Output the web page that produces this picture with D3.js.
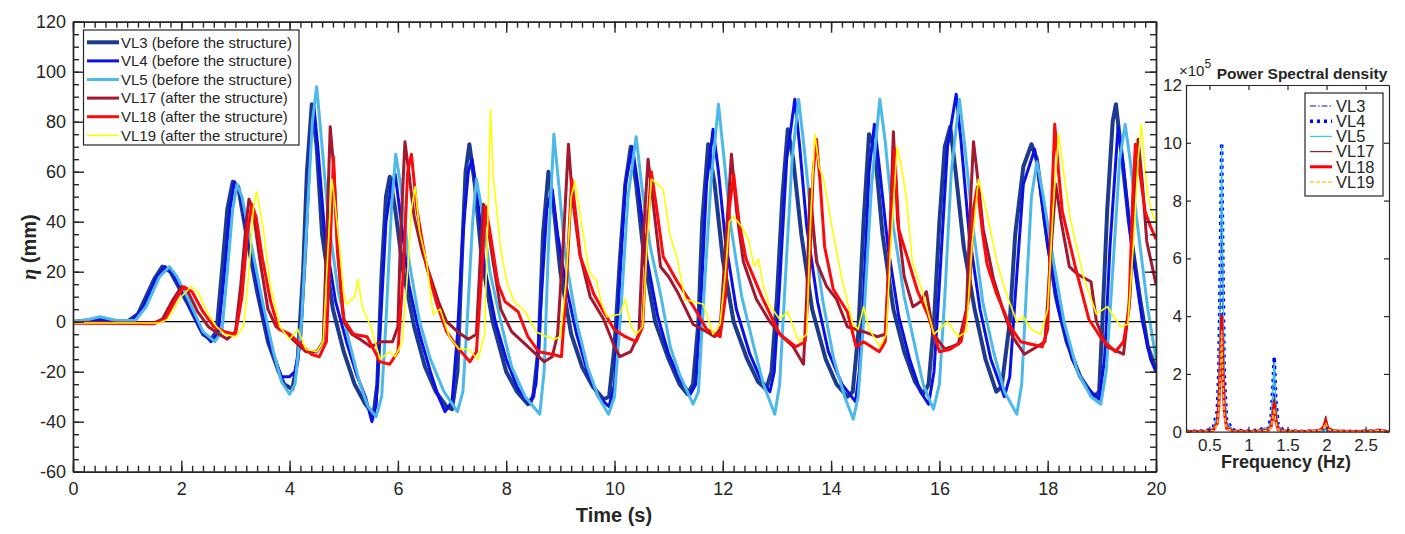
<!DOCTYPE html>
<html>
<head>
<meta charset="utf-8">
<script src="https://cdn.jsdelivr.net/npm/d3@7"></script>
<style>
body { margin: 0; background: #fff; }
text { font-family: "Liberation Sans", Arial, Helvetica, sans-serif; fill: #262626; }
</style>
</head>
<body>
<script>
// wave gauge time series [t (s), eta (mm)]
var vl3 = [[0,0],[0.5,0.5],[1.0,0],[1.2,3],[1.5,17],[1.65,22],[1.8,20],[2.1,8],[2.4,-5],[2.55,-7],[2.65,-4],[2.75,20],[2.85,45],[2.95,56],[3.05,54],[3.2,35],[3.4,12],[3.6,-8],[3.8,-20],[3.9,-25],[4.05,-27],[4.15,-15],[4.25,20],[4.32,60],[4.41,87],[4.5,70],[4.6,35],[4.8,5],[5.0,-12],[5.2,-25],[5.4,-33],[5.55,-37],[5.62,-25],[5.7,20],[5.78,50],[5.85,58],[5.95,45],[6.1,20],[6.3,-2],[6.5,-18],[6.7,-28],[6.9,-34],[7.0,-35],[7.1,-20],[7.18,25],[7.25,60],[7.32,71],[7.42,55],[7.55,25],[7.75,0],[8.0,-20],[8.2,-28],[8.4,-33],[8.5,-30],[8.6,-10],[8.68,35],[8.78,60],[8.88,45],[9.0,20],[9.2,-5],[9.4,-18],[9.6,-26],[9.8,-31],[9.9,-30],[10.0,-10],[10.1,25],[10.2,55],[10.3,70],[10.4,55],[10.55,25],[10.75,0],[11.0,-15],[11.2,-25],[11.35,-29],[11.45,-25],[11.55,0],[11.62,40],[11.73,71],[11.85,55],[12.0,25],[12.2,0],[12.45,-15],[12.65,-24],[12.8,-27],[12.9,-20],[13.0,10],[13.1,50],[13.2,77],[13.3,65],[13.45,35],[13.65,5],[13.9,-15],[14.1,-25],[14.3,-30],[14.4,-28],[14.5,-5],[14.6,40],[14.7,75],[14.8,70],[14.95,35],[15.15,5],[15.35,-12],[15.55,-24],[15.7,-29],[15.8,-25],[15.9,0],[16.0,40],[16.1,70],[16.2,78],[16.3,60],[16.45,30],[16.65,5],[16.85,-15],[17.05,-28],[17.15,-26],[17.3,0],[17.4,35],[17.55,62],[17.7,71],[17.8,65],[17.95,40],[18.15,10],[18.35,-8],[18.6,-22],[18.85,-30],[18.95,-28],[19.0,-5],[19.1,45],[19.2,80],[19.26,87],[19.35,70],[19.5,40],[19.7,10],[19.85,-10],[20,-19]];
var vl4 = [[0,0],[0.4,1],[0.8,0.5],[1.1,0.5],[1.3,6],[1.55,18],[1.7,22],[1.85,19],[2.1,9],[2.35,-3],[2.55,-8],[2.68,-5],[2.8,20],[2.9,45],[2.98,56],[3.08,52],[3.25,32],[3.45,10],[3.65,-10],[3.85,-22],[4.0,-22],[4.1,-20],[4.2,-8],[4.3,30],[4.38,70],[4.45,86],[4.52,70],[4.65,35],[4.85,8],[5.05,-8],[5.25,-22],[5.4,-30],[5.52,-40],[5.6,-33],[5.68,0],[5.78,40],[5.88,55],[5.95,59],[6.05,42],[6.2,15],[6.4,-5],[6.6,-20],[6.75,-30],[6.87,-36],[7.0,-32],[7.1,-5],[7.2,35],[7.3,60],[7.37,65],[7.47,50],[7.6,22],[7.8,0],[8.0,-15],[8.2,-26],[8.35,-31],[8.45,-33],[8.55,-25],[8.65,10],[8.75,45],[8.85,53],[8.95,35],[9.1,15],[9.3,-5],[9.5,-20],[9.7,-30],[9.9,-34],[10.0,-25],[10.08,10],[10.2,55],[10.33,70],[10.43,55],[10.6,25],[10.8,2],[11.0,-13],[11.2,-23],[11.4,-29],[11.5,-25],[11.6,10],[11.7,55],[11.82,77],[11.92,60],[12.05,32],[12.25,5],[12.5,-13],[12.7,-23],[12.87,-28],[12.95,-20],[13.05,15],[13.18,65],[13.33,89],[13.42,70],[13.55,38],[13.75,8],[13.95,-12],[14.2,-25],[14.45,-32],[14.52,-20],[14.6,10],[14.7,60],[14.8,79],[14.9,60],[15.05,30],[15.25,2],[15.45,-15],[15.65,-28],[15.8,-33],[15.9,-20],[16.0,15],[16.15,70],[16.31,91],[16.4,72],[16.55,35],[16.75,5],[16.95,-15],[17.2,-30],[17.3,-22],[17.4,10],[17.55,55],[17.76,69],[17.85,55],[18.0,30],[18.2,5],[18.45,-15],[18.7,-26],[18.95,-31],[19.05,-15],[19.15,30],[19.3,78],[19.4,62],[19.55,30],[19.75,0],[19.9,-15],[20,-20]];
var vl5 = [[0,0],[0.3,1],[0.5,2],[0.8,0.5],[1.15,0.5],[1.35,6],[1.6,18],[1.78,22],[1.92,18],[2.15,8],[2.4,-4],[2.62,-8],[2.75,-4],[2.85,20],[2.95,45],[3.03,55],[3.12,50],[3.3,30],[3.5,8],[3.7,-12],[3.85,-24],[4.0,-29],[4.1,-25],[4.22,0],[4.32,40],[4.42,80],[4.5,94],[4.58,75],[4.72,40],[4.9,12],[5.1,-8],[5.3,-25],[5.45,-34],[5.6,-38],[5.7,-30],[5.78,0],[5.88,45],[5.96,67],[6.05,55],[6.2,25],[6.4,0],[6.6,-15],[6.85,-28],[7.1,-36],[7.2,-28],[7.28,0],[7.38,40],[7.45,57],[7.55,45],[7.7,20],[7.9,0],[8.1,-18],[8.35,-30],[8.62,-37],[8.7,-20],[8.78,30],[8.88,75],[8.97,55],[9.1,25],[9.3,0],[9.5,-18],[9.7,-30],[9.89,-37],[10.0,-30],[10.12,5],[10.25,50],[10.4,74],[10.5,55],[10.66,30],[10.85,11],[11.03,-10],[11.2,-21],[11.45,-33],[11.55,-28],[11.65,10],[11.78,55],[11.92,87],[12.0,70],[12.15,38],[12.35,10],[12.55,-8],[12.75,-25],[12.96,-37],[13.05,-25],[13.15,15],[13.28,65],[13.4,89],[13.5,70],[13.65,38],[13.85,8],[14.05,-15],[14.25,-30],[14.41,-39],[14.5,-30],[14.6,0],[14.75,55],[14.9,89],[15.0,72],[15.15,38],[15.35,10],[15.55,-10],[15.7,-25],[15.89,-35],[16.0,-25],[16.1,10],[16.22,60],[16.37,89],[16.47,70],[16.62,38],[16.8,8],[17.0,-12],[17.2,-28],[17.43,-37],[17.52,-25],[17.6,10],[17.7,50],[17.8,64],[17.92,50],[18.1,25],[18.3,0],[18.55,-20],[18.8,-30],[18.98,-33],[19.08,-20],[19.2,20],[19.33,65],[19.43,79],[19.52,65],[19.65,40],[19.85,5],[20,-15]];
var vl17 = [[0,-0.5],[1.5,-0.5],[1.65,1],[1.85,9],[2.0,14],[2.1,13],[2.3,4],[2.5,-2],[2.7,-5],[2.85,-7],[3.0,-4],[3.1,15],[3.2,40],[3.25,49],[3.32,45],[3.45,25],[3.6,5],[3.75,-2],[3.9,-4],[4.1,-8],[4.3,-12],[4.5,-12],[4.62,-8],[4.68,30],[4.75,78],[4.82,60],[4.9,25],[5.0,0],[5.15,-5],[5.3,-7],[5.5,-10],[5.7,-8],[5.9,-8],[6.0,-2],[6.05,35],[6.13,72],[6.2,60],[6.3,42],[6.45,28],[6.6,18],[6.75,8],[6.9,0],[7.1,-4],[7.3,-7],[7.45,-5],[7.52,25],[7.58,47],[7.65,40],[7.75,25],[7.9,5],[8.1,-4],[8.3,-8],[8.5,-12],[8.7,-16],[8.85,-14],[8.95,-5],[9.05,30],[9.15,71],[9.22,50],[9.36,27],[9.55,10],[9.8,1],[10.0,-10],[10.1,-14],[10.3,-12],[10.45,-5],[10.52,30],[10.62,65],[10.7,50],[10.85,22],[11.0,18],[11.16,12],[11.45,-1],[11.7,-4],[11.85,-6],[11.95,-3],[12.05,30],[12.16,67],[12.25,45],[12.38,24],[12.62,9],[12.87,0],[13.1,-6],[13.3,-10],[13.49,-17],[13.55,10],[13.61,53],[13.73,24],[13.92,14],[14.1,9],[14.3,-2],[14.6,-4],[14.85,-6],[15.0,-5],[15.08,30],[15.15,76],[15.23,40],[15.35,18],[15.51,6],[15.65,8],[15.76,12],[15.89,-5],[16.1,-11],[16.35,-9],[16.5,5],[16.58,50],[16.63,72],[16.72,55],[16.81,37],[17.0,17],[17.17,5],[17.35,-6],[17.57,-13],[17.8,-10],[17.95,-8],[18.05,25],[18.15,55],[18.25,40],[18.4,22],[18.55,19],[18.8,16],[18.9,0],[19.09,-10],[19.4,-13],[19.52,10],[19.6,50],[19.67,73],[19.75,55],[19.83,32],[20,15]];
var vl18 = [[0,-0.5],[1.5,-0.8],[1.7,1],[1.9,9],[2.05,14],[2.2,12],[2.4,4],[2.6,-2],[2.8,-4],[3.0,-5],[3.12,10],[3.22,35],[3.3,47],[3.38,42],[3.5,25],[3.65,8],[3.8,-3],[4.0,-5],[4.2,-9],[4.4,-13],[4.55,-14],[4.68,-8],[4.75,30],[4.81,66],[4.88,29],[5.0,1],[5.18,-5],[5.43,-6],[5.67,-16],[5.85,-17],[6.0,-12],[6.1,20],[6.18,60],[6.25,67],[6.35,45],[6.53,22],[6.72,7],[6.9,-4],[7.09,-10],[7.33,-16],[7.45,-12],[7.55,20],[7.62,46],[7.7,36],[7.85,15],[7.98,8],[8.22,4],[8.4,-6],[8.6,-12],[8.85,-13],[9.02,-14],[9.1,10],[9.21,57],[9.3,40],[9.37,26],[9.62,11],[9.8,4],[9.99,-3],[10.2,-6],[10.4,-8],[10.52,-2],[10.6,35],[10.68,60],[10.78,45],[10.9,26],[11.16,16],[11.46,6],[11.7,-3],[11.95,-6],[12.05,10],[12.12,45],[12.2,59],[12.3,40],[12.43,25],[12.72,10],[13.05,-5],[13.35,-10],[13.52,-8],[13.6,20],[13.67,60],[13.73,73],[13.8,55],[13.88,30],[14.04,13],[14.3,4],[14.46,-10],[14.6,-8],[14.89,-12],[15.0,-8],[15.08,30],[15.17,69],[15.25,37],[15.46,22],[15.6,12],[15.8,2],[16.0,-12],[16.2,-11],[16.4,-8],[16.55,10],[16.63,45],[16.7,54],[16.8,35],[16.88,23],[17.06,11],[17.31,-2],[17.5,-8],[17.9,-10],[18.0,-3],[18.06,40],[18.13,79],[18.2,60],[18.27,44],[18.52,21],[18.76,1],[19.0,-7],[19.25,-12],[19.4,-8],[19.5,5],[19.57,50],[19.62,71],[19.7,60],[19.8,44],[19.9,38],[20,33]];
var vl19 = [[0,-0.5],[1.6,-0.5],[1.75,1],[2.0,10],[2.18,14],[2.3,12],[2.5,3],[2.65,-2],[2.8,-5],[3.0,-6],[3.15,-2],[3.25,20],[3.33,45],[3.39,52],[3.45,45],[3.52,36],[3.64,15],[3.82,-2],[4.0,-7],[4.15,-3],[4.3,-11],[4.5,-12],[4.62,-8],[4.7,25],[4.78,57],[4.84,47],[4.93,28],[5.0,11],[5.05,7],[5.2,10],[5.26,17],[5.34,6],[5.5,-2],[5.67,-15],[5.85,-12],[5.95,-14],[6.08,-8],[6.18,20],[6.25,45],[6.32,54],[6.4,36],[6.53,24],[6.65,3],[6.78,5],[6.95,-6],[7.13,-11],[7.3,-11],[7.48,-15],[7.6,-5],[7.66,40],[7.71,85],[7.76,58],[7.9,29],[8.02,15],[8.15,8],[8.35,4],[8.55,-4],[8.75,-6],[8.89,-7],[9.0,-6],[9.1,15],[9.2,50],[9.27,56],[9.4,38],[9.53,20],[9.6,18],[9.66,17],[9.75,8],[9.86,2],[10.1,3],[10.2,9],[10.3,-2],[10.4,-5],[10.52,-2],[10.6,30],[10.68,57],[10.9,53],[11.02,35],[11.16,25],[11.3,9],[11.46,8],[11.64,7],[11.82,-5],[11.95,-1],[12.05,20],[12.12,40],[12.2,42],[12.35,38],[12.47,33],[12.58,22],[12.66,25],[12.74,15],[12.85,7],[13.05,1],[13.2,4],[13.4,-8],[13.55,-5],[13.62,40],[13.7,75],[13.78,62],[13.86,57],[14.04,35],[14.2,17],[14.4,-1],[14.5,-3],[14.6,6],[14.7,-3],[14.9,-10],[15.02,-5],[15.1,30],[15.22,70],[15.3,62],[15.38,51],[15.5,24],[15.7,11],[15.9,-5],[16.15,0],[16.35,-6],[16.5,-4],[16.6,30],[16.72,57],[16.88,43],[17.06,24],[17.24,11],[17.43,0],[17.55,2],[17.7,-3],[17.87,-5],[18.0,5],[18.1,45],[18.2,75],[18.28,62],[18.4,43],[18.66,18],[18.9,3],[19.1,6],[19.35,-2],[19.48,-1],[19.58,30],[19.67,65],[19.73,79],[19.8,60],[19.85,50],[19.95,42],[20,40]];

// power spectral density (x10^5) on a shared frequency list (Hz)
var freqs = [0.2,0.4,0.5,0.55,0.6,0.62,0.64,0.657,0.67,0.69,0.72,0.8,1.0,1.15,1.2,1.25,1.29,1.31,1.33,1.35,1.38,1.45,1.7,1.9,1.96,1.99,2.02,2.1,2.4,2.6,2.68,2.75,2.8];
var psd3 = [0.01,0.01,0.05,0.1,0.5,1.5,4.5,8.4,5.5,1.5,0.3,0.05,0.02,0.05,0.12,0.1,0.4,1.2,2.6,1.0,0.2,0.03,0.01,0.02,0.05,0.1,0.04,0.01,0.01,0.02,0.04,0.01,0.01];
var psd4 = [0.01,0.02,0.06,0.15,0.7,2.0,6.0,10.0,6.5,2.0,0.4,0.06,0.02,0.06,0.15,0.1,0.5,1.4,2.6,1.1,0.25,0.03,0.01,0.02,0.05,0.1,0.04,0.01,0.01,0.02,0.05,0.01,0.01];
var psd5 = [0.01,0.02,0.05,0.12,0.6,1.8,5.5,9.9,6.2,1.8,0.35,0.05,0.02,0.05,0.12,0.1,0.4,1.3,2.4,1.0,0.2,0.03,0.01,0.02,0.04,0.08,0.03,0.01,0.01,0.02,0.04,0.01,0.01];
var psd17 = [0.01,0.01,0.02,0.05,0.3,0.9,2.2,4.1,2.4,0.7,0.12,0.02,0.01,0.02,0.04,0.05,0.2,0.6,1.2,0.5,0.08,0.02,0.01,0.03,0.2,0.55,0.15,0.02,0.01,0.02,0.05,0.01,0.01];
var psd18 = [0.01,0.01,0.02,0.05,0.3,0.9,2.2,4.0,2.3,0.7,0.12,0.02,0.01,0.02,0.04,0.05,0.18,0.5,1.0,0.4,0.07,0.02,0.01,0.03,0.15,0.35,0.1,0.02,0.01,0.02,0.05,0.01,0.01];
var psd19 = [0.01,0.01,0.02,0.04,0.25,0.8,2.0,3.5,2.0,0.6,0.1,0.02,0.01,0.02,0.03,0.04,0.15,0.45,0.8,0.35,0.06,0.02,0.01,0.03,0.12,0.3,0.08,0.02,0.01,0.02,0.05,0.01,0.01];

var mainLabels = ['VL3 (before the structure)','VL4 (before the structure)','VL5 (before the structure)','VL17 (after the structure)','VL18 (after the structure)','VL19 (after the structure)'];
var psdLabels = ['VL3','VL4','VL5','VL17','VL18','VL19'];
var xTicks = [0,2,4,6,8,10,12,14,16,18,20];
var yTicks = [-60,-40,-20,0,20,40,60,80,100,120];
var fTicks = [0.5,1,1.5,2,2.5];
var pTicks = [0,2,4,6,8,10,12];

var svg = d3.select('body').append('svg').attr('width', 1405).attr('height', 534);

// ---------- main time series ----------
var x = d3.scaleLinear().domain([0, 20]).range([73, 1156]);
var y = d3.scaleLinear().domain([-60, 120]).range([471.7, 21.7]);

var mainStyle = [
    {data: vl3, color: '#1c3a8e', w: 4},
    {data: vl4, color: '#0a10e8', w: 3},
    {data: vl5, color: '#4cb9ea', w: 3},
    {data: vl17, color: '#a3172f', w: 3},
    {data: vl18, color: '#ff0a0a', w: 3},
    {data: vl19, color: '#ffff00', w: 1.6}
];

svg.append('clipPath').attr('id', 'clipMain').append('rect')
    .attr('x', 73).attr('y', 21.7).attr('width', 1083).attr('height', 450);

var line = d3.line().x(d => x(d[0])).y(d => y(d[1]));
var plot = svg.append('g').attr('clip-path', 'url(#clipMain)');
plot.append('line').attr('x1', x(0)).attr('x2', x(20)).attr('y1', y(0)).attr('y2', y(0))
    .attr('stroke', '#000').attr('stroke-width', 1.2);
mainStyle.forEach(s => {
    plot.append('path').datum(s.data).attr('d', line).attr('fill', 'none')
        .attr('stroke', s.color).attr('stroke-width', s.w).attr('stroke-linejoin', 'round');
});

function styleAxis(g) {
    g.selectAll('path, line').attr('stroke', '#262626').attr('stroke-width', 1.4);
    g.selectAll('text').attr('font-size', 18).attr('fill', '#262626')
        .attr('font-family', '"Liberation Sans", Arial, sans-serif');
}

var xMinor = d3.range(0, 101).map(i => i * 0.2);
var yMinor = d3.range(0, 37).map(i => -60 + i * 5);

svg.append('g').attr('transform', 'translate(0,471.7)')
    .call(d3.axisBottom(x).tickValues(xMinor).tickSize(-6).tickSizeOuter(0).tickFormat('')).call(styleAxis);
svg.append('g').attr('transform', 'translate(0,471.7)')
    .call(d3.axisBottom(x).tickValues(xTicks).tickSize(-11).tickSizeOuter(0).tickPadding(11).tickFormat(d => String(d))).call(styleAxis);
svg.append('g').attr('transform', 'translate(0,21.7)')
    .call(d3.axisTop(x).tickValues(xMinor).tickSize(-6).tickSizeOuter(0).tickFormat('')).call(styleAxis);
svg.append('g').attr('transform', 'translate(0,21.7)')
    .call(d3.axisTop(x).tickValues(xTicks).tickSize(-11).tickSizeOuter(0).tickFormat('')).call(styleAxis);
svg.append('g').attr('transform', 'translate(73,0)')
    .call(d3.axisLeft(y).tickValues(yMinor).tickSize(-6).tickSizeOuter(0).tickFormat('')).call(styleAxis);
svg.append('g').attr('transform', 'translate(73,0)')
    .call(d3.axisLeft(y).tickValues(yTicks).tickSize(-11).tickSizeOuter(0).tickPadding(7).tickFormat(d => String(d))).call(styleAxis);
svg.append('g').attr('transform', 'translate(1156,0)')
    .call(d3.axisRight(y).tickValues(yMinor).tickSize(-6).tickSizeOuter(0).tickFormat('')).call(styleAxis);
svg.append('g').attr('transform', 'translate(1156,0)')
    .call(d3.axisRight(y).tickValues(yTicks).tickSize(-11).tickSizeOuter(0).tickFormat('')).call(styleAxis);

svg.append('text').attr('x', 614).attr('y', 522).attr('text-anchor', 'middle')
    .attr('font-size', 20).attr('font-weight', 'bold').text('Time (s)');
var yl = svg.append('text').attr('transform', 'translate(36,247) rotate(-90)')
    .attr('text-anchor', 'middle').attr('font-size', 20).attr('font-weight', 'bold');
yl.append('tspan').attr('font-style', 'italic').attr('font-family', '"Liberation Serif", serif').text('η');
yl.append('tspan').text(' (mm)');

// main legend
var leg = svg.append('g');
leg.append('rect').attr('x', 83.5).attr('y', 30).attr('width', 215.5).attr('height', 115)
    .attr('fill', '#fff').attr('stroke', '#262626').attr('stroke-width', 1.2);
mainStyle.forEach((s, i) => {
    var ry = 42.3 + i * 18.6;
    leg.append('line').attr('x1', 87).attr('x2', 119).attr('y1', ry).attr('y2', ry)
        .attr('stroke', s.color).attr('stroke-width', s.w);
    leg.append('text').attr('x', 121).attr('y', ry + 5.3).attr('font-size', 15).text(mainLabels[i]);
});

// ---------- power spectral density ----------
var fx = d3.scaleLinear().domain([0.2, 2.8]).range([1186, 1389]);
var fy = d3.scaleLinear().domain([0, 12]).range([431.7, 85]);

var psdStyle = [
    {data: psd3, color: '#1a1a9c', w: 1.2, dash: '6,2,1.5,2'},
    {data: psd4, color: '#0000ff', w: 3.5, dash: '3,4'},
    {data: psd5, color: '#33c6f5', w: 1.2, dash: null},
    {data: psd17, color: '#8b2525', w: 1.2, dash: null},
    {data: psd18, color: '#ff0000', w: 3, dash: null},
    {data: psd19, color: '#ffcc33', w: 1.5, dash: '4,2'}
];

svg.append('clipPath').attr('id', 'clipPsd').append('rect')
    .attr('x', 1186).attr('y', 85).attr('width', 203).attr('height', 346.7);
var pline = d3.line().x(d => fx(d[0])).y(d => fy(d[1]));
var pp = svg.append('g').attr('clip-path', 'url(#clipPsd)');
psdStyle.forEach(s => {
    pp.append('path').datum(freqs.map((f, i) => [f, s.data[i]])).attr('d', pline)
        .attr('fill', 'none').attr('stroke', s.color).attr('stroke-width', s.w)
        .attr('stroke-dasharray', s.dash);
});

function stylePsd(g) {
    g.selectAll('path, line').attr('stroke', '#262626').attr('stroke-width', 1.2);
    g.selectAll('text').attr('font-size', 17).attr('fill', '#262626')
        .attr('font-family', '"Liberation Sans", Arial, sans-serif');
}
svg.append('g').attr('transform', 'translate(0,431.7)')
    .call(d3.axisBottom(fx).tickValues(fTicks).tickSize(-5).tickSizeOuter(0).tickPadding(7).tickFormat(d => String(d))).call(stylePsd);
svg.append('g').attr('transform', 'translate(0,85)')
    .call(d3.axisTop(fx).tickValues(fTicks).tickSize(-5).tickSizeOuter(0).tickFormat('')).call(stylePsd);
svg.append('g').attr('transform', 'translate(1186,0)')
    .call(d3.axisLeft(fy).tickValues(pTicks).tickSize(-5).tickSizeOuter(0).tickPadding(4).tickFormat(d => String(d))).call(stylePsd);
svg.append('g').attr('transform', 'translate(1389,0)')
    .call(d3.axisRight(fy).tickValues(pTicks).tickSize(-5).tickSizeOuter(0).tickFormat('')).call(stylePsd);

svg.append('text').attr('x', 1286).attr('y', 468).attr('text-anchor', 'middle')
    .attr('font-size', 18).attr('font-weight', 'bold').text('Frequency (Hz)');
svg.append('text').attr('x', 1302).attr('y', 79).attr('text-anchor', 'middle')
    .attr('font-size', 15.5).attr('font-weight', 'bold').text('Power Spectral density');
var ex = svg.append('text').attr('x', 1179).attr('y', 76).attr('font-size', 15);
ex.append('tspan').text('×10');
ex.append('tspan').attr('dy', -8).attr('font-size', 12).text('5');

// psd legend
var pl = svg.append('g');
pl.append('rect').attr('x', 1305).attr('y', 93).attr('width', 78).attr('height', 103)
    .attr('fill', '#fff').attr('stroke', '#262626').attr('stroke-width', 1.2);
psdStyle.forEach((s, i) => {
    var ry = 106 + i * 15.2;
    pl.append('line').attr('x1', 1310).attr('x2', 1332).attr('y1', ry).attr('y2', ry)
        .attr('stroke', s.color).attr('stroke-width', s.w).attr('stroke-dasharray', s.dash);
    pl.append('text').attr('x', 1336).attr('y', ry + 5.8).attr('font-size', 16.5).text(psdLabels[i]);
});
</script>
</body>
</html>
